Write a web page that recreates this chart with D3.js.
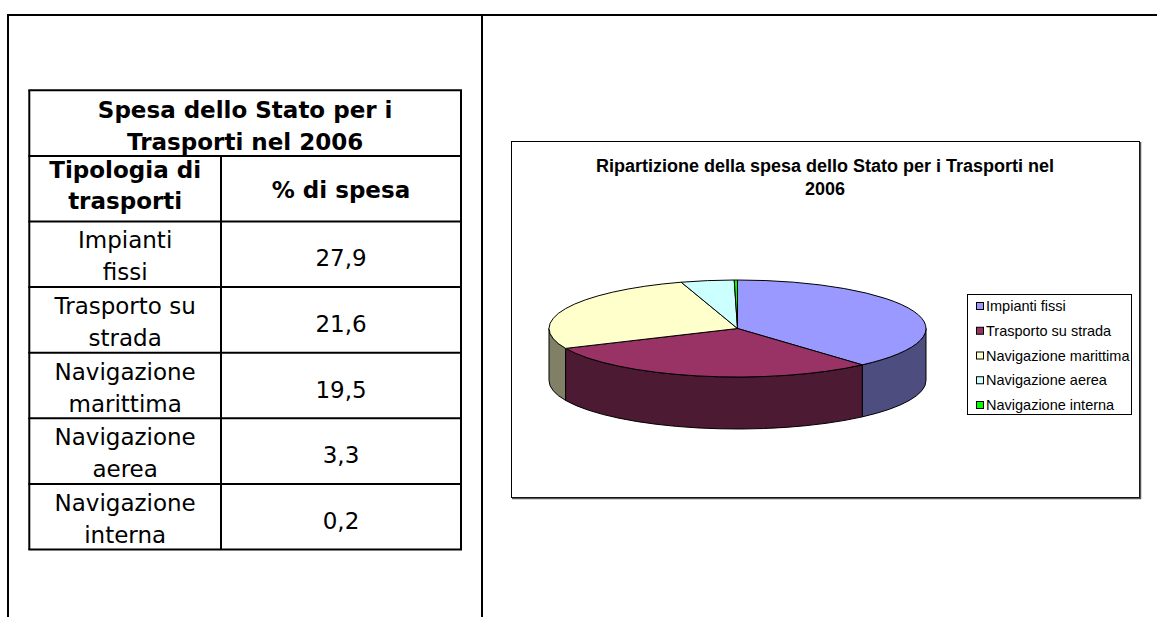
<!DOCTYPE html>
<html>
<head>
<meta charset="utf-8">
<script src="https://cdn.jsdelivr.net/npm/d3@7"></script>
<style>
  body { margin: 0; background: #fff; }
  svg { display: block; }
</style>
</head>
<body>
<script>
// data
var categories = ["Impianti fissi", "Trasporto su strada", "Navigazione marittima", "Navigazione aerea", "Navigazione interna"];
var values = [27.9, 21.6, 19.5, 3.3, 0.2];
var topColors = ["#9999FF", "#993366", "#FFFFCC", "#CCFFFF", "#00FF00"];
var sideColors = ["#4D4D80", "#4D1A33", "#808066", "#668080", "#008000"];
var tableTitle = ["Spesa dello Stato per i", "Trasporti nel 2006"];
var headers = [["Tipologia di", "trasporti"], ["% di spesa"]];
var chartTitle = ["Ripartizione della spesa dello Stato per i Trasporti nel", "2006"];

var w = 1157, h = 617;
var svg = d3.select("body").append("svg")
    .attr("width", w)
    .attr("height", h);

// page frame
svg.append("line").attr("x1", 7).attr("x2", w).attr("y1", 15).attr("y2", 15)
    .attr("stroke", "#000").attr("stroke-width", 2);
svg.append("line").attr("x1", 8).attr("x2", 8).attr("y1", 14).attr("y2", h)
    .attr("stroke", "#000").attr("stroke-width", 2);
svg.append("line").attr("x1", 482).attr("x2", 482).attr("y1", 14).attr("y2", h)
    .attr("stroke", "#000").attr("stroke-width", 2);

// ---------- table ----------
var fmt = d3.formatLocale({decimal: ",", thousands: ".", grouping: [3], currency: ["", "€"]}).format(".1f");
var tx0 = 29.3, tx1 = 461, tcol = 221;
var rowY = d3.scaleLinear().domain([0, 7]).range([90.3, 549.5]);
var tfont = "'DejaVu Sans', Verdana, sans-serif";
var table = svg.append("g");

function splitLast(s) {
  var i = s.lastIndexOf(" ");
  return [s.slice(0, i), s.slice(i + 1)];
}

// title row
table.selectAll(".tt").data(tableTitle).enter().append("text")
    .attr("x", (tx0 + tx1) / 2)
    .attr("y", function(d, i) { return rowY(0) + 28 + i * 32; })
    .attr("text-anchor", "middle")
    .style("font-family", tfont).style("font-size", "23px").style("font-weight", "bold")
    .text(function(d) { return d; });

// header row
var hm = (rowY(1) + rowY(2)) / 2;
table.selectAll(".h1").data(headers[0]).enter().append("text")
    .attr("x", (tx0 + tcol) / 2)
    .attr("y", function(d, i) { return hm - 11 + i * 31; })
    .attr("text-anchor", "middle")
    .style("font-family", tfont).style("font-size", "23px").style("font-weight", "bold")
    .text(function(d) { return d; });
table.append("text")
    .attr("x", (tcol + tx1) / 2)
    .attr("y", hm + 9)
    .attr("text-anchor", "middle")
    .style("font-family", tfont).style("font-size", "23px").style("font-weight", "bold")
    .text(headers[1][0]);

// body rows
categories.forEach(function(c, i) {
  var m = (rowY(i + 2) + rowY(i + 3)) / 2;
  table.selectAll(".r" + i).data(splitLast(c)).enter().append("text")
      .attr("x", (tx0 + tcol) / 2)
      .attr("y", function(d, j) { return m - 6 + j * 32; })
      .attr("text-anchor", "middle")
      .style("font-family", tfont).style("font-size", "23px")
      .text(function(d) { return d; });
  table.append("text")
      .attr("x", (tcol + tx1) / 2)
      .attr("y", m + 12)
      .attr("text-anchor", "middle")
      .style("font-family", tfont).style("font-size", "23px")
      .text(fmt(values[i]));
});

// table grid
table.selectAll(".hl").data(d3.range(8)).enter().append("line")
    .attr("x1", tx0 - 1).attr("x2", tx1 + 1)
    .attr("y1", function(d) { return rowY(d); })
    .attr("y2", function(d) { return rowY(d); })
    .attr("stroke", "#000").attr("stroke-width", 2);
[tx0, tx1].forEach(function(x) {
  table.append("line").attr("x1", x).attr("x2", x).attr("y1", rowY(0)).attr("y2", rowY(7))
      .attr("stroke", "#000").attr("stroke-width", 2);
});
table.append("line").attr("x1", tcol).attr("x2", tcol).attr("y1", rowY(1)).attr("y2", rowY(7))
    .attr("stroke", "#000").attr("stroke-width", 2);

// ---------- chart ----------
var chart = svg.append("g");
chart.append("rect")
    .attr("x", 511.5).attr("y", 141.5).attr("width", 628).attr("height", 356)
    .attr("fill", "#fff").attr("stroke", "#000").attr("stroke-width", 1);
chart.append("line").attr("x1", 1140.5).attr("x2", 1140.5).attr("y1", 142).attr("y2", 499)
    .attr("stroke", "#555").attr("stroke-width", 1.5);
chart.append("line").attr("x1", 512).attr("x2", 1141).attr("y1", 498.5).attr("y2", 498.5)
    .attr("stroke", "#555").attr("stroke-width", 1.5);

var cfont = "'Liberation Sans', Arial, sans-serif";
chart.selectAll(".ct").data(chartTitle).enter().append("text")
    .attr("x", 825)
    .attr("y", function(d, i) { return 172 + i * 23; })
    .attr("text-anchor", "middle")
    .style("font-family", cfont).style("font-size", "18px").style("font-weight", "bold")
    .text(function(d) { return d; });

// 3D pie
var cx = 737.5, cy = 328.5, rx = 188.5, ry = 48.5, depth = 52;
var pie = d3.pie().sort(null).value(function(d) { return d; });
var arcs = pie(values);

function P(a, dy) {
  return [cx + rx * Math.sin(a), cy - ry * Math.cos(a) + (dy || 0)];
}

var sides = chart.append("g");
arcs.forEach(function(a, i) {
  var s = Math.max(a.startAngle, Math.PI / 2), e = Math.min(a.endAngle, 3 * Math.PI / 2);
  if (s >= e) return;
  var p0 = P(s), p1 = P(e), p2 = P(e, depth), p3 = P(s, depth);
  var d = "M" + p0 + "A" + rx + "," + ry + " 0 0 1 " + p1 +
          "L" + p2 + "A" + rx + "," + ry + " 0 0 0 " + p3 + "Z";
  sides.append("path").attr("d", d)
      .attr("fill", sideColors[i]).attr("stroke", "#000").attr("stroke-width", 1)
      .attr("stroke-linejoin", "round");
});

var tops = chart.append("g");
tops.selectAll("path").data(arcs).enter().append("path")
    .attr("d", function(a) {
      var p0 = P(a.startAngle), p1 = P(a.endAngle);
      var large = (a.endAngle - a.startAngle) > Math.PI ? 1 : 0;
      return "M" + cx + "," + cy + "L" + p0 + "A" + rx + "," + ry + " 0 " + large + " 1 " + p1 + "Z";
    })
    .attr("fill", function(a, i) { return topColors[i]; })
    .attr("stroke", "#000").attr("stroke-width", 1)
    .attr("stroke-linejoin", "round");

// legend
var legend = chart.append("g");
legend.append("rect")
    .attr("x", 967.5).attr("y", 294.5).attr("width", 164).attr("height", 120)
    .attr("fill", "#fff").attr("stroke", "#000").attr("stroke-width", 1);
var ly = d3.scalePoint().domain(categories).range([306, 405]);
var items = legend.selectAll(".li").data(categories).enter().append("g");
items.append("rect")
    .attr("x", 976.5).attr("y", function(d) { return ly(d) - 3.5; })
    .attr("width", 7).attr("height", 7)
    .attr("fill", function(d, i) { return topColors[i]; })
    .attr("stroke", "#000").attr("stroke-width", 1);
items.append("text")
    .attr("x", 986).attr("y", function(d) { return ly(d) + 5; })
    .style("font-family", cfont).style("font-size", "14.5px")
    .text(function(d) { return d; });
</script>
</body>
</html>
